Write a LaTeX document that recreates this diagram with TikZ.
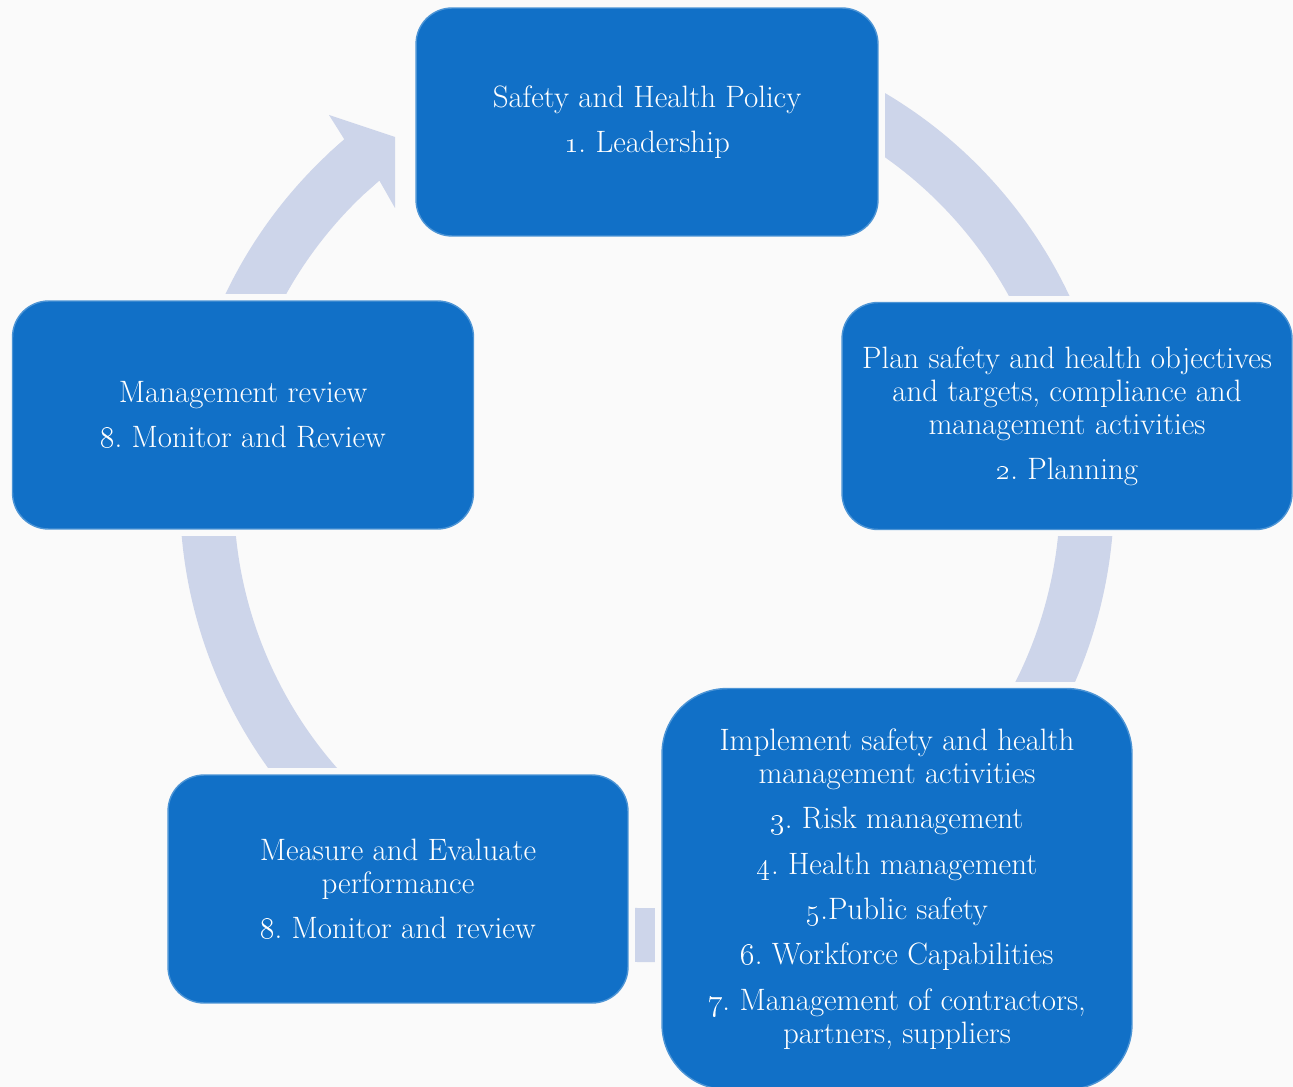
\documentclass[tikz,border=0pt]{standalone}
\usetikzlibrary{calc,backgrounds}
\definecolor{stageblue}{RGB}{17,112,199}
\definecolor{ringgray}{RGB}{205,213,234}
\definecolor{paper}{RGB}{250,250,250}
\tikzset{
  stage/.style={rectangle,rounded corners=0.72cm,fill=stageblue,draw=stageblue!75!white,line width=0.8pt,
    text=white,align=center,inner sep=0pt,font=\fontsize{17.6}{18.8}\selectfont\frenchspacing},
  ring/.style={draw=ringgray,line width=1.08cm},
  gap/.style={fill=paper}
}
\begin{document}
\begin{tikzpicture}[x=0.02cm,y=-0.02cm]
\useasboundingbox (0,0) rectangle (1293,1087);
% stages
\node[stage,minimum width=9.24cm,minimum height=4.56cm] (policy) at (647,122)
  {Safety and Health Policy\\[7pt]\oldstylenums{1}. Leadership};
\node[stage,minimum width=9.0cm,minimum height=4.54cm] (plan) at (1067,416)
  {Plan safety and health objectives\\and targets, compliance and\\management activities\\[7pt]\oldstylenums{2}. Planning};
\node[stage,rounded corners=1.3cm,minimum width=9.4cm,minimum height=8.02cm] (implement) at (897,889)
  {Implement safety and health\\management activities\\[7pt]\oldstylenums{3}. Risk management\\[7pt]\oldstylenums{4}. Health management\\[7pt]\oldstylenums{5}.Public safety\\[7pt]\oldstylenums{6}. Workforce Capabilities\\[7pt]\oldstylenums{7}. Management of contractors,\\partners, suppliers};
\node[stage,minimum width=9.2cm,minimum height=4.56cm] (measure) at (398,889)
  {Measure and Evaluate\\performance\\[7pt]\oldstylenums{8}. Monitor and review};
\node[stage,minimum width=9.22cm,minimum height=4.56cm] (review) at (243,415)
  {Management review\\[7pt]\oldstylenums{8}. Monitor and Review};
% ring behind the stages
\begin{scope}[on background layer]
\fill[paper] (0,0) rectangle (1293,1087);
\coordinate (c) at (647,495);
\draw[ring] ($(c)+(-75:440)$) arc[start angle=-75,end angle=229.6,radius=440];
\fill[ringgray] (329,115) -- (395,137) -- (395,208) -- ($(c)+(229.6:413)$) -- ($(c)+(227:413)$)
  -- ($(c)+(227:467)$) -- ($(c)+(229.6:467)$) -- cycle;
\foreach \n in {policy,plan,implement,measure,review}
  \fill[gap] ([shift={(-6,-6)}]\n.north west) rectangle ([shift={(6,6)}]\n.south east);
\end{scope}
\end{tikzpicture}
\end{document}
